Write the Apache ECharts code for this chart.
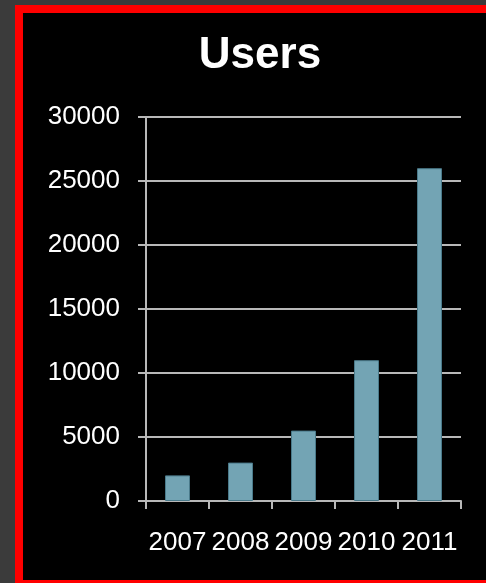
<!DOCTYPE html>
<html>
<head>
<meta charset="utf-8">
<script src="https://cdn.jsdelivr.net/npm/echarts@6/dist/echarts.min.js"></script>
<style>
  html, body { margin: 0; padding: 0; width: 486px; height: 583px; overflow: hidden; background: #3b3b3b; }
  #chart { position: absolute; left: 0; top: 0; width: 486px; height: 583px; }
</style>
</head>
<body>
<div id="chart"></div>
<script>
const categories = ['2007', '2008', '2009', '2010', '2011'];
const users = [2000, 3000, 5500, 11000, 26000];
const yMin = 0, yMax = 30000, yInterval = 5000;

const FONT = 'Liberation Sans, Arial, sans-serif';
const chart = echarts.init(document.getElementById('chart'));
chart.setOption({
  backgroundColor: '#3b3b3b',
  animation: false,
  graphic: [
    { type: 'rect', z: -10, silent: true, shape: { x: 15, y: 5, width: 471, height: 578 }, style: { fill: '#ff0000' } },
    { type: 'rect', z: -9, silent: true, shape: { x: 23, y: 13, width: 463, height: 567 }, style: { fill: '#000000' } }
  ],
  title: {
    text: 'Users',
    left: 255, textAlign: 'center', top: 29,
    textStyle: { color: '#ffffff', fontSize: 44, fontWeight: 'bold', fontFamily: FONT }
  },
  grid: { left: 146, right: 25, top: 117, bottom: 82, containLabel: false },
  xAxis: {
    type: 'category', data: categories,
    axisLine: { lineStyle: { color: '#b8b8b8', width: 2 } },
    axisTick: { show: true, length: 8, alignWithLabel: false, lineStyle: { color: '#b8b8b8', width: 2 } },
    axisLabel: { color: '#ffffff', fontSize: 26, margin: 29, fontFamily: FONT, interval: 0 }
  },
  yAxis: {
    type: 'value', min: yMin, max: yMax, interval: yInterval,
    axisLine: { show: true, lineStyle: { color: '#b8b8b8', width: 2 } },
    axisTick: { show: true, length: 8, lineStyle: { color: '#b8b8b8', width: 2 } },
    splitLine: { show: true, lineStyle: { color: '#b8b8b8', width: 2 } },
    axisLabel: { color: '#ffffff', fontSize: 26, margin: 26, fontFamily: FONT, formatter: v => String(v) }
  },
  series: [{
    type: 'bar', data: users, barWidth: 25,
    itemStyle: { color: '#73a4b4', borderColor: '#4a7a8a', borderWidth: 1 }
  }]
});
</script>
</body>
</html>
